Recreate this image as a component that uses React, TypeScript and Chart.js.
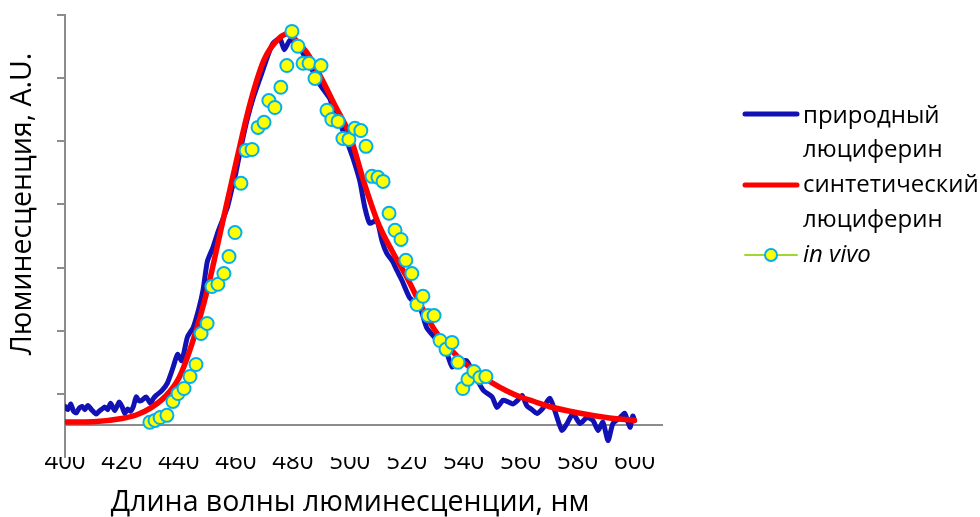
import React, { useEffect, useRef } from 'react';
import { Chart, registerables } from 'chart.js';

Chart.register(...registerables);

const FONT = '"Open Sans", "DejaVu Sans", sans-serif';

const xTicks = [400, 420, 440, 460, 480, 500, 520, 540, 560, 580, 600];
const yTicks = [0.1, 0.3, 0.5, 0.7, 0.9, 1.1, 1.3];

const xTitle = 'Длина волны люминесценции, нм';
const yTitle = 'Люминесценция, A.U.';

const seriesNames = ['природный люциферин', 'синтетический люциферин', 'in vivo'];
const legendLines = [['природный', 'люциферин'], ['синтетический', 'люциферин'], ['in vivo']];

// природный люциферин (noisy measured spectrum)
const blueX = [400, 401, 402, 403, 404, 405, 406, 407, 408, 409.5, 411, 412, 413, 414, 415, 416, 417.5, 419, 420, 421, 422, 423, 424, 425, 426, 427, 428.5, 430, 431, 432, 434, 436, 438, 439.5, 441, 443, 445, 447, 448.5, 450, 452, 454, 457, 458.5, 460, 462, 464, 466, 468.5, 471, 473, 475.5, 477, 479, 481.5, 483.5, 486, 489.5, 493, 494, 496, 499, 501, 503.5, 505.3, 507, 509.5, 511.3, 513, 515, 516.6, 518.3, 521, 524.6, 527, 530.6, 534, 536, 538, 541, 543, 545, 547, 550, 551.7, 553.8, 555.5, 557.3, 559, 560.5, 562.2, 564, 565.7, 567.8, 570.3, 572.8, 574.5, 576.3, 578.4, 580.8, 583.3, 585.4, 587.2, 588.9, 590.7, 592.4, 594.9, 596.6, 598.4, 599.4, 600];
const blueY = [0.06, 0.05, 0.068, 0.045, 0.04, 0.055, 0.06, 0.05, 0.063, 0.048, 0.036, 0.045, 0.052, 0.058, 0.05, 0.07, 0.047, 0.074, 0.06, 0.038, 0.052, 0.045, 0.06, 0.09, 0.078, 0.08, 0.09, 0.07, 0.085, 0.095, 0.11, 0.135, 0.185, 0.225, 0.205, 0.28, 0.31, 0.37, 0.43, 0.52, 0.565, 0.62, 0.69, 0.745, 0.8, 0.89, 0.97, 1.035, 1.1, 1.165, 1.21, 1.225, 1.19, 1.22, 1.21, 1.18, 1.14, 1.08, 1.035, 1.005, 0.97, 0.9, 0.85, 0.775, 0.69, 0.64, 0.65, 0.585, 0.545, 0.52, 0.49, 0.46, 0.405, 0.375, 0.31, 0.27, 0.23, 0.185, 0.2, 0.205, 0.172, 0.14, 0.11, 0.09, 0.057, 0.08, 0.075, 0.068, 0.08, 0.095, 0.062, 0.05, 0.038, 0.054, 0.086, 0.025, -0.016, 0.006, 0.038, 0.006, 0.025, 0.016, -0.016, 0.01, -0.048, 0.006, 0.025, 0.038, -0.006, 0.03, 0.015];

// синтетический люциферин (smooth spectrum)
const redX = [400, 410, 420, 425, 430, 435, 440, 445, 450, 455, 460, 465, 470, 475, 478, 480, 485, 490, 495, 500, 505, 510, 515, 520, 525, 530, 535, 540, 545, 550, 555, 560, 565, 570, 580, 590, 600];
const redY = [0.011, 0.012, 0.022, 0.033, 0.055, 0.09, 0.15, 0.27, 0.43, 0.63, 0.83, 1.02, 1.16, 1.225, 1.24, 1.23, 1.18, 1.1, 1.01, 0.92, 0.77, 0.64, 0.55, 0.47, 0.38, 0.3, 0.245, 0.2, 0.165, 0.135, 0.11, 0.09, 0.075, 0.06, 0.04, 0.025, 0.016];

// in vivo points
const vivoX = [429.8, 431.6, 433.4, 435.8, 437.9, 439.7, 441.8, 443.9, 446.0, 447.8, 449.9, 451.6, 453.7, 455.8, 457.6, 459.7, 461.8, 463.6, 465.7, 467.8, 469.9, 471.6, 473.7, 475.8, 477.9, 479.7, 481.8, 483.6, 485.7, 487.8, 489.9, 492.0, 493.7, 495.9, 497.6, 499.7, 501.8, 503.9, 505.7, 507.8, 509.9, 511.7, 513.8, 515.9, 518.0, 519.7, 521.8, 523.6, 525.7, 527.5, 529.6, 531.7, 533.8, 535.9, 538.0, 539.7, 541.5, 543.6, 545.7, 547.8];
const vivoY = [0.01, 0.016, 0.025, 0.032, 0.076, 0.101, 0.117, 0.155, 0.193, 0.291, 0.323, 0.44, 0.447, 0.481, 0.535, 0.611, 0.767, 0.871, 0.874, 0.944, 0.96, 1.029, 1.007, 1.071, 1.14, 1.248, 1.201, 1.147, 1.147, 1.099, 1.14, 0.998, 0.969, 0.963, 0.909, 0.906, 0.941, 0.934, 0.884, 0.789, 0.786, 0.773, 0.672, 0.618, 0.589, 0.523, 0.481, 0.383, 0.409, 0.348, 0.348, 0.269, 0.241, 0.263, 0.2, 0.117, 0.146, 0.171, 0.152, 0.155];

const AXIS_COLOR = '#8C8C8C';

const toPts = (xs: number[], ys: number[]) => xs.map((x, i) => ({ x, y: ys[i] }));

const zeroLinePlugin = {
  id: 'zeroLine',
  beforeDatasetsDraw(chart: any) {
    const { ctx, chartArea, scales } = chart;
    const y = Math.round(scales.y.getPixelForValue(0));
    ctx.save();
    ctx.strokeStyle = AXIS_COLOR;
    ctx.lineWidth = 2;
    ctx.beginPath();
    ctx.moveTo(chartArea.left, y);
    ctx.lineTo(chartArea.right, y);
    ctx.stroke();
    ctx.restore();
  },
};

const decorPlugin = {
  id: 'decor',
  afterDraw(chart: any) {
    const { ctx } = chart;
    ctx.save();
    ctx.fillStyle = '#000';
    // axis titles
    ctx.font = `28.5px ${FONT}`;
    ctx.textAlign = 'center';
    ctx.textBaseline = 'alphabetic';
    ctx.fillText(xTitle, 350, 511);
    ctx.save();
    ctx.translate(31, 204);
    ctx.rotate(-Math.PI / 2);
    ctx.fillText(yTitle, 0, 0);
    ctx.restore();

    // legend
    const lineX0 = 745;
    const lineX1 = 797;
    const textX = 803;
    const rowBase = [[123, 157], [192, 227], [262]];
    const lineY = [114, 185, 255];
    chart.data.datasets.forEach((ds: any, i: number) => {
      const ly = lineY[i];
      ctx.save();
      ctx.lineCap = 'round';
      if (i < 2) {
        ctx.strokeStyle = ds.borderColor;
        ctx.lineWidth = 5;
        ctx.beginPath();
        ctx.moveTo(lineX0, ly);
        ctx.lineTo(lineX1, ly);
        ctx.stroke();
      } else {
        ctx.strokeStyle = ds.borderColor;
        ctx.lineWidth = 2;
        ctx.beginPath();
        ctx.moveTo(lineX0, ly);
        ctx.lineTo(lineX1, ly);
        ctx.stroke();
        ctx.beginPath();
        ctx.arc((lineX0 + lineX1) / 2, ly, 6, 0, Math.PI * 2);
        ctx.fillStyle = ds.pointBackgroundColor;
        ctx.fill();
        ctx.lineWidth = 2;
        ctx.strokeStyle = ds.pointBorderColor;
        ctx.stroke();
      }
      ctx.restore();
      ctx.fillStyle = '#000';
      ctx.textAlign = 'left';
      ctx.font = i === 2 ? `italic 24px ${FONT}` : `24px ${FONT}`;
      legendLines[i].forEach((t, j) => ctx.fillText(t, textX, rowBase[i][j]));
    });
    ctx.restore();
  },
};

export default function App() {
  const ref = useRef<HTMLCanvasElement>(null);
  useEffect(() => {
    const canvas = ref.current;
    if (!canvas) return;
    const chart = new Chart(canvas, {
      type: 'scatter',
      data: {
        datasets: [
          {
            label: seriesNames[0],
            data: toPts(blueX, blueY),
            showLine: true,
            borderColor: '#1212B4',
            backgroundColor: '#1212B4',
            borderWidth: 5,
            pointRadius: 0,
            tension: 0.2,
            borderJoinStyle: 'round',
            borderCapStyle: 'round',
            order: 3,
          },
          {
            label: seriesNames[1],
            data: toPts(redX, redY),
            showLine: true,
            borderColor: '#FF0000',
            backgroundColor: '#FF0000',
            borderWidth: 5.5,
            pointRadius: 0,
            cubicInterpolationMode: 'monotone',
            borderJoinStyle: 'round',
            borderCapStyle: 'round',
            order: 2,
          },
          {
            label: seriesNames[2],
            data: toPts(vivoX, vivoY),
            showLine: false,
            borderColor: '#A0D832',
            pointBackgroundColor: '#FFFF00',
            pointBorderColor: '#00B0F0',
            pointBorderWidth: 2,
            pointRadius: 6.5,
            order: 1,
          },
        ] as any,
      },
      options: {
        responsive: false,
        animation: false,
        devicePixelRatio: 1,
        layout: { padding: { left: 55, right: 317, top: 15, bottom: 0 } },
        plugins: { legend: { display: false }, tooltip: { enabled: false } },
        scales: {
          x: {
            type: 'linear',
            min: 400,
            max: 610,
            afterBuildTicks: (s: any) => {
              s.ticks = xTicks.map((v) => ({ value: v }));
            },
            afterFit: (s: any) => {
              s.height = 60;
            },
            grid: { display: false, drawTicks: false },
            border: { display: false },
            ticks: {
              color: '#000',
              padding: -9,
              maxRotation: 0,
              autoSkip: false,
              font: { family: FONT, size: 24 },
            },
          },
          y: {
            type: 'linear',
            min: -0.1,
            max: 1.3,
            afterBuildTicks: (s: any) => {
              s.ticks = yTicks.map((v) => ({ value: v }));
            },
            afterFit: (s: any) => {
              s.width = 10;
            },
            grid: {
              display: true,
              drawOnChartArea: false,
              drawTicks: true,
              tickLength: 8,
              color: AXIS_COLOR,
              lineWidth: 2,
            },
            border: { display: true, color: AXIS_COLOR, width: 2 },
            ticks: { display: false },
          },
        },
      } as any,
      plugins: [zeroLinePlugin, decorPlugin],
    });
    return () => chart.destroy();
  }, []);
  return (
    <div style={{ position: 'fixed', left: 0, top: 0, width: 980, height: 517, background: '#fff' }}>
      <canvas ref={ref} width={980} height={517} style={{ display: 'block' }} />
    </div>
  );
}
